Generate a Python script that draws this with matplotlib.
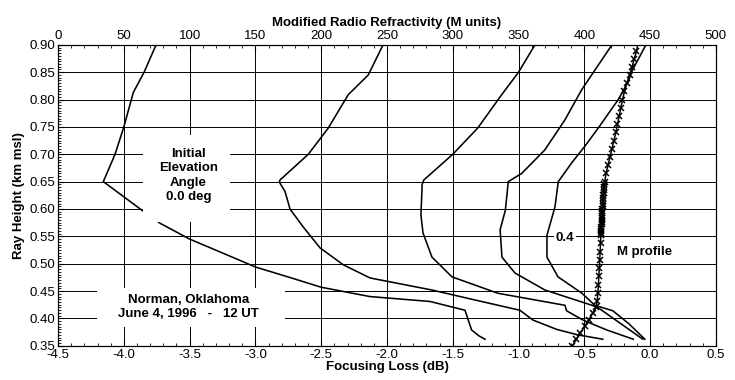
import numpy as np
import matplotlib
matplotlib.use("Agg")
import matplotlib.pyplot as plt
from matplotlib.patches import Rectangle
from matplotlib.ticker import MultipleLocator, FormatStrFormatter

plt.rcParams['font.family'] = ['Liberation Sans', 'DejaVu Sans']
plt.rcParams['axes.unicode_minus'] = False

# ray curves (focusing loss in dB, ray height in km msl)
ray_a_x = [-3.755, -3.846, -3.928, -4.0, -4.067, -4.156, -4.004, -3.864, -3.725, -3.5,
           -3.244, -3.0, -2.74, -2.5, -2.13, -1.673, -1.407, -1.382, -1.357, -1.30, -1.255]
ray_a_y = [0.90, 0.85, 0.813, 0.75, 0.70, 0.65, 0.623, 0.598, 0.574, 0.545,
           0.519, 0.494, 0.475, 0.457, 0.440, 0.431, 0.415, 0.397, 0.379, 0.368, 0.362]

ray_b_x = [-2.03, -2.142, -2.294, -2.446, -2.598, -2.813, -2.818, -2.775, -2.737, -2.636,
           -2.509, -2.332, -2.129, -1.66, -1.30, -0.99, -0.89, -0.71, -0.55, -0.36]
ray_b_y = [0.90, 0.845, 0.809, 0.748, 0.70, 0.653, 0.649, 0.632, 0.600, 0.567,
           0.529, 0.498, 0.474, 0.452, 0.432, 0.415, 0.397, 0.380, 0.370, 0.362]

ray_c_x = [-0.875, -1.0, -1.14, -1.31, -1.50, -1.72, -1.734, -1.734, -1.742, -1.726,
           -1.658, -1.506, -1.157, -0.647, -0.635, -0.51, -0.33, -0.128]
ray_c_y = [0.90, 0.85, 0.805, 0.748, 0.70, 0.653, 0.644, 0.635, 0.589, 0.556,
           0.512, 0.476, 0.446, 0.424, 0.414, 0.397, 0.379, 0.362]

ray_d_x = [-0.29, -0.52, -0.647, -0.80, -0.976, -1.078, -1.10, -1.14, -1.126, -1.027,
           -0.80, -0.442, -0.397, -0.22, -0.055]
ray_d_y = [0.90, 0.818, 0.763, 0.708, 0.665, 0.650, 0.598, 0.562, 0.512, 0.483,
           0.452, 0.424, 0.420, 0.390, 0.362]

ray_e_x = [-0.032, -0.14, -0.166, -0.242, -0.394, -0.495, -0.597, -0.698, -0.723, -0.784,
           -0.784, -0.70, -0.518, -0.42, -0.283, -0.16, -0.04]
ray_e_y = [0.90, 0.851, 0.833, 0.80, 0.748, 0.715, 0.684, 0.650, 0.604, 0.552,
           0.512, 0.476, 0.446, 0.424, 0.414, 0.390, 0.362]

# M profile (M units, km msl)
m_height = [0.350, 0.362, 0.374, 0.386, 0.398, 0.410, 0.420, 0.432, 0.447, 0.462,
            0.477, 0.492, 0.507, 0.522, 0.537, 0.552, 0.556, 0.560, 0.564, 0.568,
            0.572, 0.576, 0.580, 0.584, 0.588, 0.592, 0.596, 0.600, 0.605, 0.610,
            0.615, 0.620, 0.625, 0.630, 0.635, 0.640, 0.645, 0.650, 0.665, 0.680,
            0.695, 0.710, 0.725, 0.740, 0.755, 0.770, 0.785, 0.800, 0.815, 0.830,
            0.845, 0.860, 0.875, 0.888]
m_units = [391.0, 394.0, 397.0, 400.5, 403.5, 406.5, 409.0, 409.8, 410.3, 410.7,
           411.0, 411.4, 411.7, 412.0, 412.3, 412.6, 412.7, 412.8, 412.9, 413.0,
           413.1, 413.2, 413.3, 413.4, 413.5, 413.6, 413.7, 413.8, 413.9, 414.0,
           414.1, 414.3, 414.4, 414.6, 414.8, 415.0, 415.3, 415.6, 416.5, 418.0,
           419.5, 421.0, 422.5, 424.0, 425.2, 426.5, 427.8, 429.0, 430.5, 432.3,
           434.5, 436.3, 438.0, 439.6]
m_top_height = [0.888, 0.90]
m_top_units = [439.6, 440.6]

fig = plt.figure(figsize=(7.35, 3.8), dpi=100)
ax = fig.add_axes([0.079, 0.090, 0.895, 0.792])

ax.set_xlim(-4.5, 0.5)
ax.set_ylim(0.35, 0.90)
ax.grid(True, which='major', color='black', lw=0.7, zorder=1)
ax.set_axisbelow(True)

for xs, ys in [(ray_a_x, ray_a_y), (ray_b_x, ray_b_y), (ray_c_x, ray_c_y),
               (ray_d_x, ray_d_y), (ray_e_x, ray_e_y)]:
    ax.plot(xs, ys, color='black', lw=1.15, zorder=2)

ax.xaxis.set_major_locator(MultipleLocator(0.5))
ax.xaxis.set_minor_locator(MultipleLocator(0.1))
ax.yaxis.set_major_locator(MultipleLocator(0.05))
ax.yaxis.set_minor_locator(MultipleLocator(0.005))
ax.xaxis.set_major_formatter(FormatStrFormatter('%.1f'))
ax.yaxis.set_major_formatter(FormatStrFormatter('%.2f'))
ax.tick_params(which='both', direction='in', top=False, right=False, labelsize=9.5, pad=2)
ax.tick_params(which='major', length=4)
ax.tick_params(which='minor', length=2.5)
ax.set_xlabel('Focusing Loss (dB)', fontsize=9.5, fontweight='bold', labelpad=0)
ax.set_ylabel('Ray Height (km msl)', fontsize=9.5, fontweight='bold', labelpad=3)

# top axis: modified refractivity
ax2 = ax.twiny()
ax2.set_xlim(0, 500)
ax2.xaxis.set_major_locator(MultipleLocator(50))
ax2.xaxis.set_minor_locator(MultipleLocator(10))
ax2.tick_params(which='both', direction='in', labelsize=9.5, pad=2)
ax2.tick_params(which='major', length=4)
ax2.tick_params(which='minor', length=2.5)
ax2.set_xlabel('Modified Radio Refractivity (M units)', fontsize=9.5,
               fontweight='bold', labelpad=3)
ax2.plot(m_units, m_height, color='black', lw=1.1, marker='x', markersize=4,
         mew=1.1, zorder=3)
ax2.plot(m_top_units, m_top_height, color='black', lw=1.1, zorder=3)

# white label boxes
ax.add_patch(Rectangle((-3.854, 0.576), 0.661, 0.159, facecolor='white',
                       edgecolor='none', zorder=4))
ax.text(-3.51, 0.661, 'Initial\nElevation\nAngle\n0.0 deg', ha='center', va='center',
        fontsize=9.5, fontweight='bold', linespacing=1.25, zorder=5)

ax.add_patch(Rectangle((-4.204, 0.384), 1.429, 0.0715, facecolor='white',
                       edgecolor='none', zorder=4))
ax.text(-3.51, 0.421, 'Norman, Oklahoma\nJune 4, 1996   -   12 UT', ha='center',
        va='center', fontsize=9.5, fontweight='bold', linespacing=1.25, zorder=5)

ax.text(-0.647, 0.5475, '0.4', ha='center', va='center', fontsize=9.5,
        fontweight='bold', zorder=5,
        bbox=dict(facecolor='white', edgecolor='none', pad=1.5))
ax.text(-0.045, 0.522, 'M profile', ha='center', va='center', fontsize=9.5,
        fontweight='bold', zorder=5,
        bbox=dict(facecolor='white', edgecolor='none', pad=4))

fig.savefig('out.png', dpi=100)
